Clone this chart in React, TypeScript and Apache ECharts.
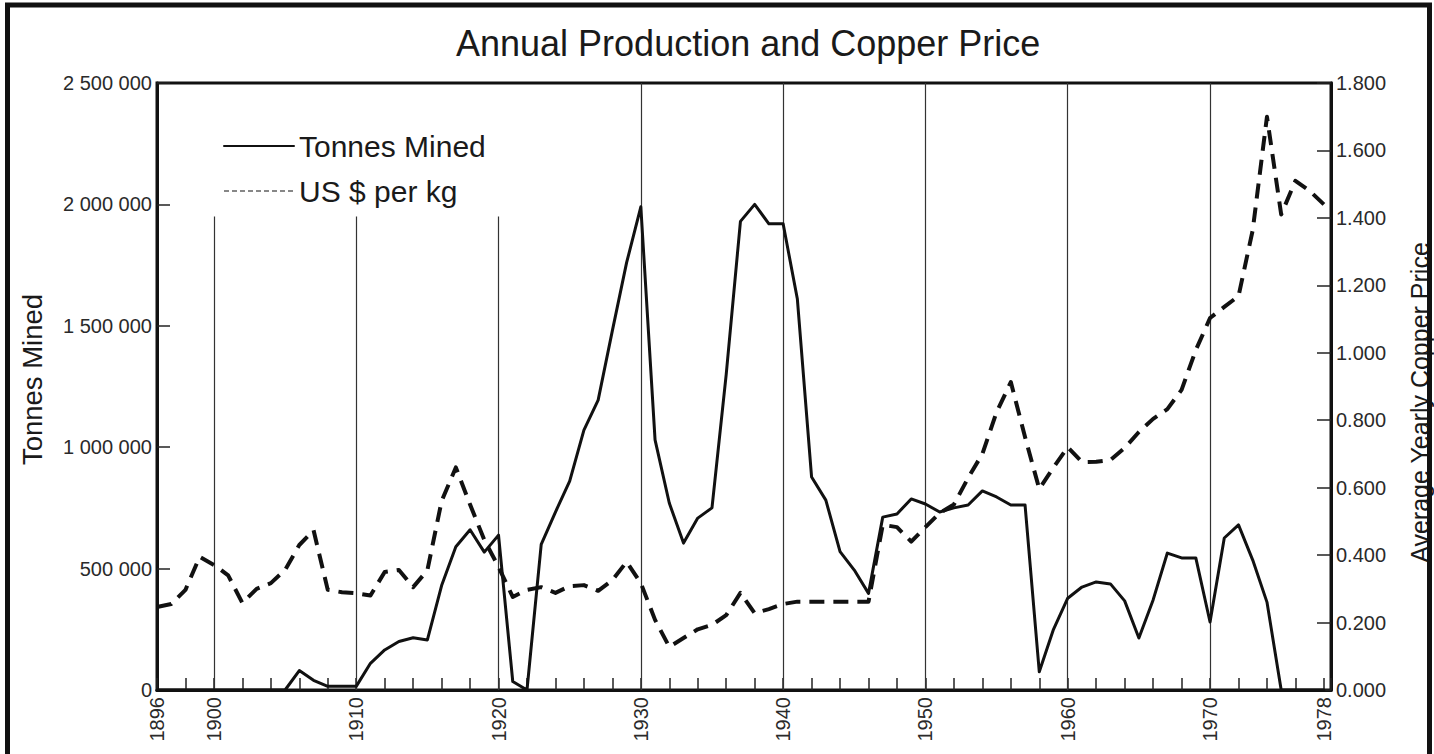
import React, { useEffect, useRef } from "react";
import * as echarts from "echarts";

const years = [
  1896, 1897, 1898, 1899, 1900, 1901, 1902, 1903, 1904, 1905, 1906, 1907, 1908, 1909,
  1910, 1911, 1912, 1913, 1914, 1915, 1916, 1917, 1918, 1919, 1920, 1921, 1922, 1923,
  1924, 1925, 1926, 1927, 1928, 1929, 1930, 1931, 1932, 1933, 1934, 1935, 1936, 1937,
  1938, 1939, 1940, 1941, 1942, 1943, 1944, 1945, 1946, 1947, 1948, 1949, 1950, 1951,
  1952, 1953, 1954, 1955, 1956, 1957, 1958, 1959, 1960, 1961, 1962, 1963, 1964, 1965,
  1966, 1967, 1968, 1969, 1970, 1971, 1972, 1973, 1974, 1975, 1976, 1977, 1978,
];

const tonnesMined = [
  0, 0, 0, 0, 0, 0, 0, 0, 0, 0, 80000, 40000, 15000, 15000,
  15000, 110000, 165000, 200000, 215000, 206000, 430000, 590000, 660000, 568000, 638000, 35000, 0, 600000,
  733000, 860000, 1070000, 1194000, 1480000, 1760000, 1990000, 1030000, 770000, 605000, 708000, 750000, 1300000, 1930000,
  2000000, 1920000, 1920000, 1610000, 877000, 782000, 570000, 494000, 398000, 712000, 725000, 787000, 766000, 733000,
  750000, 762000, 820000, 795000, 762000, 762000, 75000, 250000, 378000, 424000, 445000, 437000, 367000, 214000,
  371000, 564000, 544000, 544000, 280000, 626000, 680000, 535000, 362000, 0, 0, 0, 0,
];

const usdPerKg = [
  0.246, 0.255, 0.297, 0.395, 0.371, 0.34, 0.258, 0.3, 0.317, 0.356, 0.43, 0.474, 0.297, 0.29,
  0.287, 0.28, 0.35, 0.356, 0.305, 0.355, 0.56, 0.66, 0.55, 0.445, 0.365, 0.276, 0.297, 0.305,
  0.288, 0.308, 0.311, 0.294, 0.326, 0.38, 0.317, 0.208, 0.128, 0.154, 0.18, 0.193, 0.222, 0.288,
  0.228, 0.24, 0.255, 0.262, 0.262, 0.262, 0.262, 0.262, 0.262, 0.49, 0.483, 0.44, 0.483, 0.525,
  0.55, 0.629, 0.7, 0.824, 0.913, 0.75, 0.596, 0.66, 0.72, 0.676, 0.677, 0.682, 0.718, 0.765,
  0.804, 0.833, 0.89, 1.008, 1.103, 1.136, 1.168, 1.364, 1.7, 1.41, 1.51, 1.48, 1.44,
];

const xLabelYears = [1896, 1900, 1910, 1920, 1930, 1940, 1950, 1960, 1970, 1978];
const shortGridYears = [1900, 1910, 1920];
const fullGridYears = [1930, 1940, 1950, 1960, 1970];
const shortGridTop = 1950000;
const leftMax = 2500000;

const FONT = "'Liberation Sans', Arial, Helvetica, sans-serif";

function spaced(v: number): string {
  return String(Math.round(v)).replace(/\B(?=(\d{3})+(?!\d))/g, " ");
}

export default function App() {
  const ref = useRef<HTMLDivElement>(null);

  useEffect(() => {
    if (!ref.current) return;
    const chart = echarts.init(ref.current, undefined, { renderer: "svg" });

    const gridLines: any[] = [];
    shortGridYears.forEach((y) => {
      gridLines.push([{ coord: [y, 0] }, { coord: [y, shortGridTop] }]);
    });
    fullGridYears.forEach((y) => {
      gridLines.push([{ coord: [y, 0] }, { coord: [y, leftMax] }]);
    });

    const option: any = {
      animation: false,
      backgroundColor: "#ffffff",
      textStyle: { fontFamily: FONT },
      title: {
        text: "Annual Production and Copper Price",
        left: 456,
        top: 25,
        padding: 0,
        textStyle: { fontFamily: FONT, fontSize: 36, fontWeight: "normal", color: "#1a1a1a" },
      },
      legend: {
        orient: "vertical",
        left: 223,
        top: 131,
        padding: 0,
        itemWidth: 70,
        itemHeight: 20,
        itemGap: 15,
        selectedMode: false,
        textStyle: { fontFamily: FONT, fontSize: 30, color: "#1a1a1a" },
        data: [
          {
            name: "Tonnes Mined",
            itemStyle: { opacity: 0 },
            lineStyle: { width: 2, type: "solid", color: "#111" },
          },
          {
            name: "US $ per kg",
            itemStyle: { opacity: 0 },
            lineStyle: { width: 1.2, type: [5, 3], color: "#111" },
          },
        ],
      },
      grid: {
        left: 157,
        right: 103,
        top: 83,
        bottom: 64,
        show: true,
        borderColor: "#111",
        borderWidth: 3,
        backgroundColor: "transparent",
        containLabel: false,
        outerBoundsMode: "none",
      },
      xAxis: {
        type: "value",
        min: 1896,
        max: 1978.5,
        interval: 2,
        axisLine: { show: true, lineStyle: { color: "#111", width: 3 } },
        axisTick: { show: true, inside: true, length: 12, lineStyle: { color: "#222", width: 1.5 } },
        splitLine: { show: false },
        axisLabel: {
          rotate: 90,
          margin: 7,
          fontSize: 20,
          fontFamily: FONT,
          color: "#2a2a2a",
          showMinLabel: true,
          showMaxLabel: true,
          formatter: (v: number) => (xLabelYears.indexOf(v) >= 0 ? String(v) : ""),
        },
      },
      yAxis: [
        {
          type: "value",
          min: 0,
          max: leftMax,
          interval: 500000,
          position: "left",
          name: "Tonnes Mined",
          nameLocation: "middle",
          nameRotate: 90,
          nameGap: 111,
          nameTextStyle: { fontFamily: FONT, fontSize: 27.5, color: "#1a1a1a", padding: [0, 0, 0, 14] },
          axisLine: { show: true, lineStyle: { color: "#111", width: 3 } },
          axisTick: { show: true, inside: true, length: 13, lineStyle: { color: "#222", width: 1.5 } },
          splitLine: { show: false },
          axisLabel: {
            margin: 5,
            fontSize: 20,
            fontFamily: FONT,
            color: "#2a2a2a",
            formatter: (v: number) => spaced(v),
          },
        },
        {
          type: "value",
          min: 0,
          max: 1.8,
          interval: 0.2,
          position: "right",
          name: "Average Yearly Copper Price",
          nameLocation: "middle",
          nameRotate: 90,
          nameGap: 76,
          nameTextStyle: { fontFamily: FONT, fontSize: 25, color: "#1a1a1a", padding: [0, 32, 0, 0] },
          axisLine: { show: true, lineStyle: { color: "#111", width: 3 } },
          axisTick: { show: true, inside: true, length: 14, lineStyle: { color: "#222", width: 1.5 } },
          splitLine: { show: false },
          axisLabel: {
            margin: 5,
            fontSize: 20,
            fontFamily: FONT,
            color: "#2a2a2a",
            formatter: (v: number) => v.toFixed(3),
          },
        },
      ],
      series: [
        {
          name: "Tonnes Mined",
          type: "line",
          yAxisIndex: 0,
          showSymbol: false,
          symbol: "none",
          data: years.map((y, i) => [y, tonnesMined[i]]),
          lineStyle: { color: "#111", width: 3, type: "solid", cap: "round", join: "round" },
          itemStyle: { color: "#111" },
          z: 3,
          markLine: {
            silent: true,
            symbol: ["none", "none"],
            label: { show: false },
            lineStyle: { color: "#333", width: 1.2, type: "solid" },
            data: gridLines,
            z: 1,
          },
        },
        {
          name: "US $ per kg",
          type: "line",
          yAxisIndex: 1,
          showSymbol: false,
          symbol: "none",
          data: years.map((y, i) => [y, usdPerKg[i]]),
          lineStyle: { color: "#111", width: 4, type: [15, 9], join: "round" },
          itemStyle: { color: "#111" },
          z: 4,
        },
      ],
      graphic: [
        {
          type: "rect",
          silent: true,
          z: 100,
          shape: { x: 7.5, y: 5, width: 1422, height: 800 },
          style: { fill: "none", stroke: "#111", lineWidth: 5 },
        },
      ],
    };

    chart.setOption(option);
    return () => chart.dispose();
  }, []);

  return (
    <div
      ref={ref}
      style={{ position: "fixed", left: 0, top: 0, width: 1434, height: 754, background: "#fff" }}
    />
  );
}
